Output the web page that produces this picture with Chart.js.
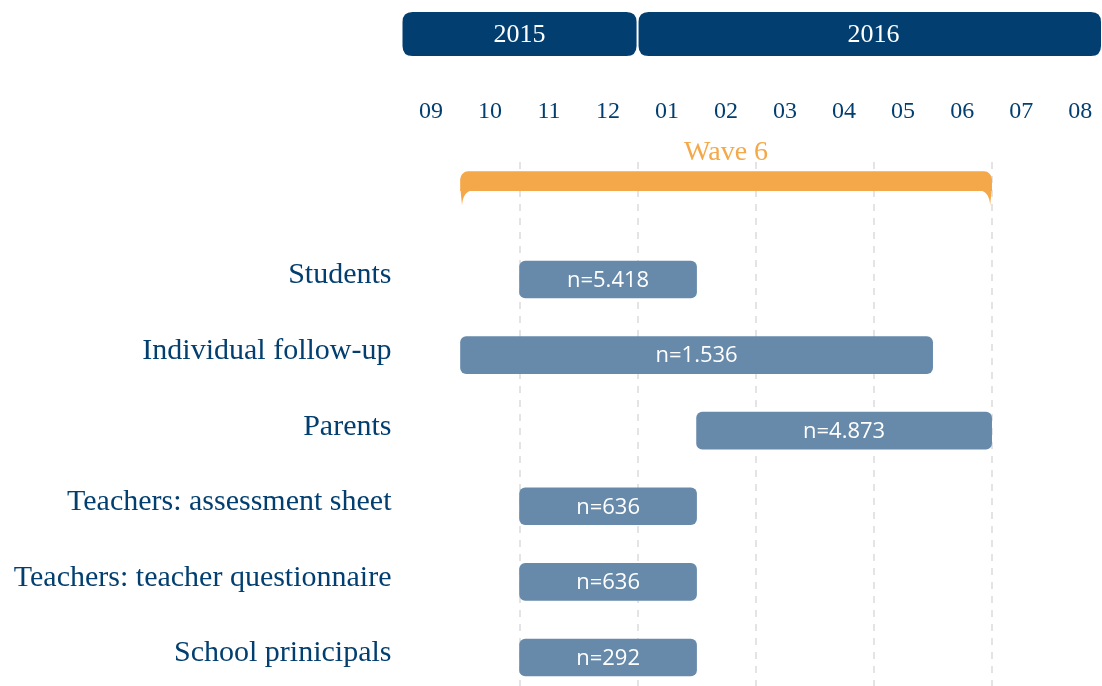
<!DOCTYPE html>
<html>
<head>
<meta charset="utf-8">
<script src="https://cdn.jsdelivr.net/npm/chart.js@4"></script>
<style>
  html, body { margin: 0; padding: 0; background: #fff; overflow: hidden; }
  #wrap { width: 1102px; height: 686px; position: relative; }
</style>
</head>
<body>
<div id="wrap"><canvas id="myChart"></canvas></div>
<script>
// rows of the survey timeline (month index 0 = start of Sept 2015)
var rows = ["Students", "Individual follow-up", "Parents", "Teachers: assessment sheet", "Teachers: teacher questionnaire", "School prinicipals"];
var starts = [2, 1, 5, 2, 2, 2];
var ends = [5, 9, 10, 5, 5, 5];
var counts = ["n=5.418", "n=1.536", "n=4.873", "n=636", "n=636", "n=292"];

var months = ["09", "10", "11", "12", "01", "02", "03", "04", "05", "06", "07", "08"];
var gridMarks = [2, 4, 6, 8, 10];

var years = ["2015", "2016"];
var yearStart = [0, 4];
var yearEnd = [4, 12];

var waves = ["Wave 6"];
var waveStart = [1];
var waveEnd = [10];
var waveRow = -1.3;

var navy = "#023f70";
var barBlue = "#678aab";
var orange = "#f5a849";
var serif = "'Liberation Serif', serif";
var sans = "'Open Sans', sans-serif";

function roundRect(ctx, x, y, w, h, r) {
  ctx.beginPath();
  ctx.moveTo(x + r, y);
  ctx.lineTo(x + w - r, y);
  ctx.quadraticCurveTo(x + w, y, x + w, y + r);
  ctx.lineTo(x + w, y + h - r);
  ctx.quadraticCurveTo(x + w, y + h, x + w - r, y + h);
  ctx.lineTo(x + r, y + h);
  ctx.quadraticCurveTo(x, y + h, x, y + h - r);
  ctx.lineTo(x, y + r);
  ctx.quadraticCurveTo(x, y, x + r, y);
  ctx.closePath();
}

// no extra room for labels near the edges
function noPad(s) {
  s.paddingLeft = 0;
  s.paddingRight = 0;
  s.paddingTop = 0;
  s.paddingBottom = 0;
}

var timelinePlugin = {
  id: "timeline",
  beforeDraw: function (chart) {
    var ctx = chart.ctx;
    var x = chart.scales.x;
    ctx.save();
    for (var i = 0; i < years.length; i++) {
      var x0 = x.getPixelForValue(yearStart[i]) + 1;
      var x1 = Math.min(x.getPixelForValue(yearEnd[i]) - 1, chart.width - 1);
      ctx.fillStyle = navy;
      roundRect(ctx, x0, 12, x1 - x0, 44, 10);
      ctx.fill();
      ctx.fillStyle = "#fff";
      ctx.font = "26px " + serif;
      ctx.textAlign = "center";
      ctx.textBaseline = "middle";
      ctx.fillText(years[i], x.getPixelForValue((yearStart[i] + yearEnd[i]) / 2), 35);
    }
    ctx.restore();
  },
  afterDatasetsDraw: function (chart) {
    var ctx = chart.ctx;
    ctx.save();
    // counts inside the bars
    var meta = chart.getDatasetMeta(0);
    ctx.fillStyle = "#fff";
    ctx.font = "22px " + sans;
    ctx.textAlign = "center";
    ctx.textBaseline = "middle";
    meta.data.forEach(function (el, i) {
      ctx.fillText(counts[i], (el.x + el.base) / 2, el.y + 1);
    });
    // wave bracket hooks and label
    var wmeta = chart.getDatasetMeta(1);
    wmeta.data.forEach(function (el, i) {
      var left = Math.min(el.x, el.base);
      var right = Math.max(el.x, el.base);
      var yb = el.y + el.height / 2;
      ctx.fillStyle = orange;
      ctx.beginPath();
      ctx.moveTo(left, yb - 1);
      ctx.lineTo(left + 1.5, yb + 15);
      ctx.quadraticCurveTo(left + 2, yb, left + 14, yb - 1);
      ctx.closePath();
      ctx.fill();
      ctx.beginPath();
      ctx.moveTo(right, yb - 1);
      ctx.lineTo(right - 1.5, yb + 15);
      ctx.quadraticCurveTo(right - 2, yb, right - 14, yb - 1);
      ctx.closePath();
      ctx.fill();
      ctx.font = "28px " + serif;
      ctx.fillText(waves[i], (left + right) / 2, el.y - el.height / 2 - 19);
    });
    ctx.restore();
  }
};

new Chart("myChart", {
  type: "bar",
  data: {
    datasets: [{
      data: rows.map(function (r, i) { return { x: [starts[i], ends[i]], y: i }; }),
      backgroundColor: barBlue,
      borderRadius: 6,
      borderSkipped: false,
      barThickness: 37
    }, {
      data: waves.map(function (w, i) { return { x: [waveStart[i], waveEnd[i]], y: waveRow }; }),
      backgroundColor: orange,
      borderRadius: { topLeft: 8, topRight: 8, bottomLeft: 0, bottomRight: 0 },
      borderSkipped: false,
      barThickness: 19
    }]
  },
  options: {
    indexAxis: "y",
    responsive: true,
    maintainAspectRatio: false,
    animation: false,
    grouped: false,
    layout: { padding: 0 },
    plugins: {
      legend: { display: false },
      tooltip: { enabled: false }
    },
    scales: {
      x: {
        type: "linear",
        position: "bottom",
        min: 0,
        max: 11.87,
        afterBuildTicks: function (s) { s.ticks = gridMarks.map(function (v) { return { value: v }; }); },
        afterFit: function (s) { s.height = 0; noPad(s); },
        ticks: { display: false },
        border: { display: false, dash: [7, 7] },
        grid: { color: "#e4e4e4", lineWidth: 2, drawTicks: false }
      },
      xTop: {
        type: "linear",
        position: "top",
        min: 0,
        max: 11.87,
        afterBuildTicks: function (s) { s.ticks = months.map(function (m, i) { return { value: i + 0.5 }; }); },
        afterFit: function (s) { s.height = 162; noPad(s); },
        ticks: {
          color: navy,
          font: { family: serif, size: 24 },
          padding: 36,
          maxRotation: 0,
          autoSkip: false,
          callback: function (v, i) { return months[i]; }
        },
        border: { display: false },
        grid: { display: false, drawTicks: false }
      },
      y: {
        type: "linear",
        reverse: true,
        offset: false,
        min: -1.554,
        max: 5.377,
        afterBuildTicks: function (s) { s.ticks = rows.map(function (r, i) { return { value: i }; }); },
        afterFit: function (s) { s.width = 401.5; noPad(s); },
        ticks: {
          color: navy,
          font: { family: serif, size: 30 },
          padding: 10,
          labelOffset: -4,
          callback: function (v, i) { return rows[i]; }
        },
        border: { display: false },
        grid: { display: false, drawTicks: false }
      }
    }
  },
  plugins: [timelinePlugin]
});
</script>
</body>
</html>
